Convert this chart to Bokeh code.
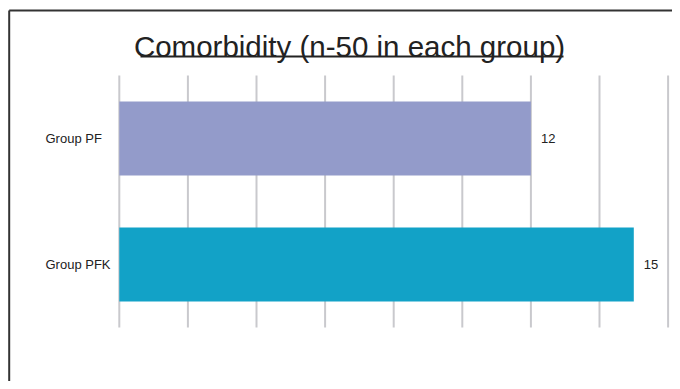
from bokeh.plotting import figure
from bokeh.models import Range1d, ColumnDataSource
from bokeh.core.properties import value
from bokeh.embed import file_html
from bokeh.resources import INLINE

# ---- data ----
title_text = "Comorbidity (n-50 in each group)"
categories = ["Group PF", "Group PFK"]
counts = [12, 15]
bar_colors = ["#939BCA", "#12A2C7"]
grid_ticks = [0, 2, 4, 6, 8, 10, 12, 14, 16]

# ---- layout (pixel geometry of the canvas) ----
W, H = 672, 381
PX_PER_X = 34.3          # pixels per count unit
PX_PER_Y = 126.0         # pixels per category band
ORIGIN_X = 118.8         # canvas px of count 0
BASE_Y = 264.0           # canvas px (from top) of last category centre

def dx(px):   # canvas px -> data x
    return (px - ORIGIN_X) / PX_PER_X

def dy(py):   # canvas px (from top) -> data y
    return (BASE_Y - py) / PX_PER_Y

n = len(categories)
ypos = [n - 1 - i for i in range(n)]

p = figure(width=W, height=H, output_backend="svg", toolbar_location=None,
           x_range=Range1d(dx(0), dx(W)), y_range=Range1d(dy(H), dy(0)),
           min_border=0, background_fill_color="white", border_fill_color="white")
p.axis.visible = False
p.xgrid.visible = False
p.ygrid.visible = False
p.outline_line_color = None

# vertical gridlines spanning the category bands
p.segment(x0=grid_ticks, x1=grid_ticks,
          y0=[-0.5] * len(grid_ticks), y1=[n - 0.5] * len(grid_ticks),
          line_color="#C9C9CD", line_width=2)

src = ColumnDataSource(dict(y=ypos, v=counts, c=bar_colors, cat=categories,
                            lab=[str(v) for v in counts],
                            lx=[v + 10 / PX_PER_X for v in counts]))
p.hbar(y="y", left=0, right="v", height=74 / PX_PER_Y, fill_color="c",
       line_color=None, source=src)

# category labels
p.text(x=dx(45), y="y", text="cat", source=src, text_align="left",
       text_baseline="middle", text_font=value("Liberation Sans"),
       text_font_size="13px", text_color="#222222")

# value labels
p.text(x="lx", y="y", text="lab", source=src, text_align="left",
       text_baseline="middle", text_font=value("Liberation Sans"),
       text_font_size="13px", text_color="#222222")

# title + underline
p.text(x=[dx(349)], y=[dy(46)], text=[title_text], text_align="center",
       text_baseline="alphabetic", text_font=value("Liberation Sans"),
       text_font_size="29.5px", text_color="#222222")
p.segment(x0=[dx(140)], x1=[dx(563)], y0=[dy(56)], y1=[dy(56)],
          line_color="#222222", line_width=2)

# outer frame border (left and top edges visible)
p.segment(x0=[dx(8.7), dx(8.7)], y0=[dy(10), dy(10)],
          x1=[dx(8.7), dx(W + 10)], y1=[dy(H + 10), dy(10)],
          line_color="#333333", line_width=2)

open("out.html", "w").write(file_html(p, INLINE))
